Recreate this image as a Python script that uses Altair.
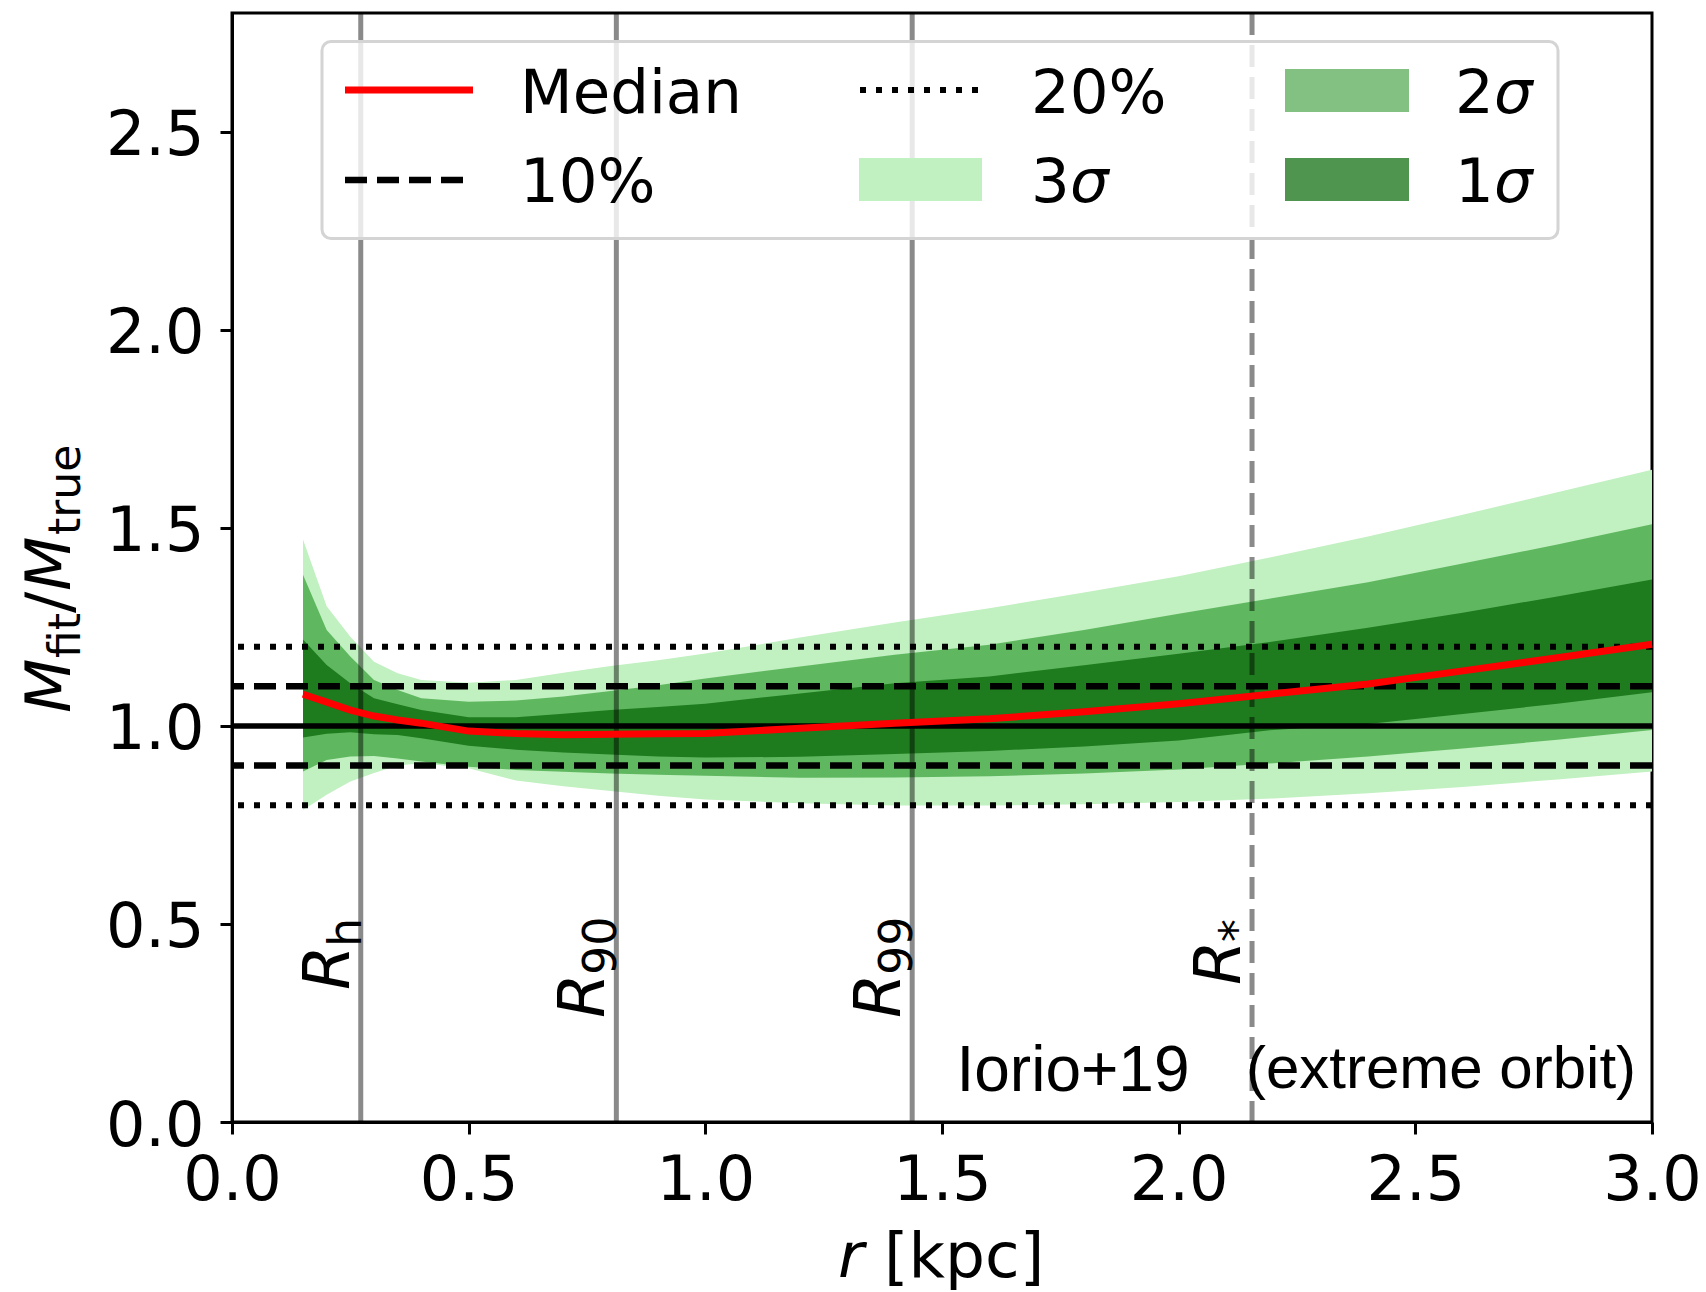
import altair as alt
import pandas as pd

# Radial grid (kpc) and mass-ratio profile M_fit / M_true
r = [0.15, 0.2, 0.25, 0.3, 0.35, 0.4, 0.5, 0.6, 0.7, 0.8, 0.9, 1.0,
     1.2, 1.4, 1.6, 1.8, 2.0, 2.2, 2.4, 2.6, 2.8, 3.0]
median = [1.080, 1.060, 1.040, 1.025, 1.015, 1.007, 0.987, 0.981, 0.978, 0.979, 0.980, 0.981,
          0.994, 1.007, 1.018, 1.036, 1.056, 1.081, 1.106, 1.139, 1.172, 1.206]
sig1_lo = [0.971, 0.980, 0.984, 0.979, 0.977, 0.969, 0.950, 0.940, 0.933, 0.928, 0.923, 0.920,
           0.922, 0.929, 0.937, 0.948, 0.963, 0.990, 1.005, 1.030, 1.056, 1.085]
sig1_hi = [1.218, 1.154, 1.108, 1.070, 1.055, 1.040, 1.022, 1.022, 1.031, 1.040, 1.048, 1.056,
           1.082, 1.108, 1.125, 1.153, 1.182, 1.213, 1.248, 1.286, 1.327, 1.370]
sig2_lo = [0.885, 0.914, 0.923, 0.924, 0.918, 0.910, 0.897, 0.889, 0.884, 0.880, 0.877, 0.874,
           0.869, 0.870, 0.873, 0.880, 0.890, 0.906, 0.923, 0.943, 0.965, 0.990]
sig2_hi = [1.382, 1.242, 1.175, 1.116, 1.091, 1.070, 1.061, 1.064, 1.074, 1.088, 1.103, 1.120,
           1.150, 1.180, 1.205, 1.242, 1.283, 1.323, 1.363, 1.410, 1.458, 1.509]
sig3_lo = [0.788, 0.826, 0.860, 0.881, 0.900, 0.906, 0.893, 0.862, 0.848, 0.836, 0.824, 0.814,
           0.805, 0.799, 0.799, 0.802, 0.808, 0.817, 0.830, 0.846, 0.865, 0.885]
sig3_hi = [1.471, 1.302, 1.225, 1.162, 1.133, 1.116, 1.109, 1.116, 1.134, 1.151, 1.166, 1.183,
           1.223, 1.261, 1.297, 1.337, 1.378, 1.427, 1.478, 1.533, 1.590, 1.647]

# Reference levels
truth = [1.0]
tol10 = [0.9, 1.1]
tol20 = [0.8, 1.2]

# Characteristic radii (kpc)
radii_main = [0.272, 0.812, 1.437]
radius_star = [2.155]

# Tick values
x_ticks = [0.0, 0.5, 1.0, 1.5, 2.0, 2.5, 3.0]
y_ticks = [0.0, 0.5, 1.0, 1.5, 2.0, 2.5]

W, H = 1420, 1109
FONT = "DejaVu Sans"
LIGHT, MID, DARK = "#c1f0c1", "#5fb85f", "#1e7b1e"

XS = alt.Scale(domain=[0, 3], nice=False, zero=False)
YS = alt.Scale(domain=[0, 2.8], nice=False, zero=False)
x_axis = alt.Axis(values=x_ticks, format=".1f", title=None, labelPadding=16,
                  labelFlush=False, labelOverlap=False)
y_axis = alt.Axis(values=y_ticks, format=".1f", title=None, labelPadding=16,
                  labelOffset=4, labelFlush=False, labelOverlap=False)

prof = pd.DataFrame({"r": r, "median": median,
                     "s1lo": sig1_lo, "s1hi": sig1_hi,
                     "s2lo": sig2_lo, "s2hi": sig2_hi,
                     "s3lo": sig3_lo, "s3hi": sig3_hi})


def band(lo, hi, color):
    return alt.Chart(prof).mark_area(color=color, opacity=1).encode(
        x=alt.X("r:Q", scale=XS, axis=x_axis),
        y=alt.Y(f"{lo}:Q", scale=YS, axis=y_axis),
        y2=f"{hi}:Q",
    )


def hlines(levels, width, dash=None):
    kw = dict(color="black", strokeWidth=width)
    if dash:
        kw["strokeDash"] = dash
    return alt.Chart(pd.DataFrame({"level": levels})).mark_rule(**kw).encode(
        y=alt.Y("level:Q", scale=YS, axis=y_axis))


def vlines(vals, dash=None):
    kw = dict(color="black", opacity=0.46, strokeWidth=5)
    if dash:
        kw["strokeDash"] = dash
    return alt.Chart(pd.DataFrame({"pos": vals})).mark_rule(**kw).encode(
        x=alt.X("pos:Q", scale=XS, axis=x_axis))


def px_text(txt, x, y, size, italic=False, family=FONT, align="left", angle=0):
    kw = dict(font=family, fontSize=size, align=align, baseline="alphabetic", color="black")
    if italic:
        kw["fontStyle"] = "italic"
    if angle:
        kw["angle"] = angle
    return alt.Chart(pd.DataFrame({"t": [txt]})).mark_text(**kw).encode(
        x=alt.value(x), y=alt.value(y), text="t:N")


def radius_label(pos, sub, y):
    # italic R with an upright subscript, reading upward just left of the line
    d = pd.DataFrame({"pos": [pos], "t": ["R"], "s": [sub]})
    main = alt.Chart(d).mark_text(font=FONT, fontSize=64, fontStyle="italic", angle=270,
                                  align="left", baseline="alphabetic", dy=-12).encode(
        x=alt.X("pos:Q", scale=XS, axis=x_axis), y=alt.value(y), text="t:N")
    subs = alt.Chart(d).mark_text(font=FONT, fontSize=46, angle=270, align="left",
                                  baseline="alphabetic", dx=43, dy=0).encode(
        x=alt.X("pos:Q", scale=XS, axis=x_axis), y=alt.value(y), text="s:N")
    return [main, subs]


def px_rule(x1, x2, y, color, width, dash=None):
    kw = dict(color=color, strokeWidth=width)
    if dash:
        kw["strokeDash"] = dash
    return alt.Chart(pd.DataFrame({"k": [0]})).mark_rule(**kw).encode(
        x=alt.value(x1), x2=alt.value(x2), y=alt.value(y))


def px_rect(x1, x2, y1, y2, fill, **extra):
    return alt.Chart(pd.DataFrame({"k": [0]})).mark_rect(fill=fill, **extra).encode(
        x=alt.value(x1), x2=alt.value(x2), y=alt.value(y1), y2=alt.value(y2))


layers = [
    band("s3lo", "s3hi", LIGHT),
    band("s2lo", "s2hi", MID),
    band("s1lo", "s1hi", DARK),
    vlines(radii_main),
    vlines(radius_star, dash=[22, 10]),
    hlines(tol20, 6, dash=[6, 10]),
    hlines(tol10, 6.5, dash=[22, 10]),
    hlines(truth, 5.5),
    alt.Chart(prof).mark_line(color="red", strokeWidth=7).encode(
        x=alt.X("r:Q", scale=XS, axis=x_axis),
        y=alt.Y("median:Q", scale=YS, axis=y_axis)),
]

# Radius labels
layers += radius_label(radii_main[0], "h", 977)
layers += radius_label(radii_main[1], "90", 1005)
layers += radius_label(radii_main[2], "99", 1005)
layers += radius_label(radius_star[0], "*", 972)

# Annotations
layers += [
    px_text("Iorio+19", 841, 1078, 64, family="Liberation Sans", align="center"),
    px_text("(extreme orbit)", 1209, 1075, 60, family="Liberation Sans", align="center"),
]

# Axis titles
layers += [
    px_text("r", 606, 1264, 63, italic=True),
    px_text("[kpc]", 652, 1264, 63),
    px_text("M", -162, 700, 63, italic=True, angle=270),
    px_text("fit", -152, 645, 44, angle=270),
    px_text("/", -162, 600, 63, angle=270),
    px_text("M", -162, 578, 63, italic=True, angle=270),
    px_text("true", -152, 522, 44, angle=270),
]

# Legend
row1, row2 = 77, 167
b1, b2 = 99.5, 188.5
layers += [
    px_rect(90, 1326, 28.5, 225.5, "white", fillOpacity=0.8, stroke="#d4d4d4",
            strokeWidth=3, cornerRadius=9),
    px_rule(113, 241, row1, "red", 7),
    px_text("Median", 288, b1, 61),
    px_rule(113, 241, row2, "black", 6.5, dash=[22, 10]),
    px_text("10%", 288, b2, 61),
    px_rule(628, 747, row1, "black", 6, dash=[6, 10]),
    px_text("20%", 799, b1, 61),
    px_rect(627, 750, 145, 188, "#c1f0c1"),
    px_text("3", 799, b2, 61),
    px_text("σ", 838, b2, 61, italic=True),
    px_rect(1053, 1177, 56, 99, "#82c182"),
    px_text("2", 1223, b1, 61),
    px_text("σ", 1262, b1, 61, italic=True),
    px_rect(1053, 1177, 145, 188, "#4f944f"),
    px_text("1", 1223, b2, 61),
    px_text("σ", 1262, b2, 61, italic=True),
]

chart = alt.layer(*layers).properties(
    width=W, height=H,
    background="white",
    autosize=alt.AutoSizeParams(type="none"),
    padding={"left": 232, "top": 13, "right": 54, "bottom": 170},
).configure_view(
    stroke="black", strokeWidth=3,
).configure_axis(
    domainColor="black", domainWidth=3, tickColor="black", tickWidth=3, tickSize=12,
    labelFont=FONT, labelFontSize=62, labelColor="black", grid=False,
)

chart.save("out.html", embed_options={"renderer": "svg", "actions": False})
